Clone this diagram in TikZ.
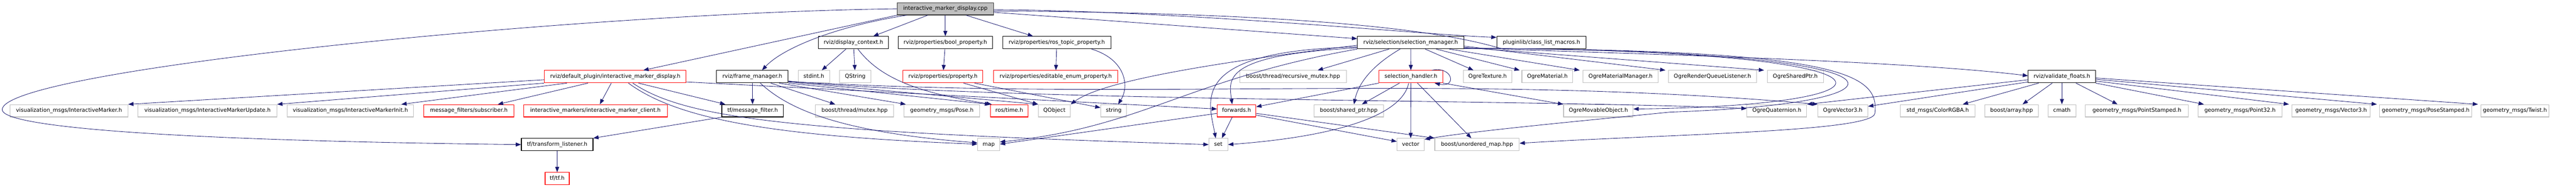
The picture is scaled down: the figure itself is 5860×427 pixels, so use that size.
\documentclass[tikz,border=0pt]{standalone}
\usepackage{fontspec}
\setmainfont{DejaVu Sans}
\usepackage{tikz}
\usetikzlibrary{arrows.meta}
\definecolor{edgeblue}{RGB}{25,25,112}
\definecolor{extgray}{RGB}{191,191,191}

\begin{document}
\begin{tikzpicture}[
        x=1pt, y=-1pt,
        every node/.style = {
        draw, rectangle, minimum height=28pt, inner xsep=3pt, inner ysep=0pt,
        text height=9pt, text depth=3pt,
        font=\fontsize{12.4}{15}\selectfont, line width=1.3pt
        },
        rootfile/.style={fill=extgray, draw=black!80},
        doc/.style={draw=black},
        ext/.style={draw=extgray},
        trunc/.style={draw=red},
        inc/.style={draw=edgeblue, line width=1pt, -{Triangle[length=12pt,width=9pt]}}
        ]
        \useasboundingbox (0,0) rectangle (5860,427);

        % row 0
        \node[rootfile, minimum width=219pt] (cpp) at (2150.5,20) {interactive\_marker\_display.cpp};

        % row 1
        \node[doc, minimum width=159pt] (dctx) at (1941.5,97) {rviz/display\_context.h};
        \node[doc, minimum width=215pt] (boolp) at (2150.5,97) {rviz/properties/bool\_property.h};
        \node[doc, minimum width=246pt] (rostp) at (2404,97) {rviz/properties/ros\_topic\_property.h};
        \node[doc, minimum width=242pt] (selm) at (3209,97) {rviz/selection/selection\_manager.h};
        \node[doc, minimum width=203pt] (plug) at (3506.5,97) {pluginlib/class\_list\_macros.h};

        % row 2
        \node[trunc, minimum width=323pt] (imd) at (1399.5,174.5) {rviz/default\_plugin/interactive\_marker\_display.h};
        \node[doc, minimum width=163pt] (fm) at (1711.5,174.5) {rviz/frame\_manager.h};
        \node[ext, minimum width=71pt] (stdint) at (1851.5,174.5) {stdint.h};
        \node[ext, minimum width=71pt] (qstr) at (1945.5,174.5) {QString};
        \node[trunc, minimum width=182pt] (prop) at (2145,174.5) {rviz/properties/property.h};
        \node[trunc, minimum width=283pt] (eenum) at (2401.5,174.5) {rviz/properties/editable\_enum\_property.h};
        \node[ext, minimum width=243pt] (rmtx) at (2941.5,174.5) {boost/thread/recursive\_mutex.hpp};
        \node[trunc, minimum width=145pt] (selh) at (3209.5,174.5) {selection\_handler.h};
        \node[ext, minimum width=110pt] (otex) at (3384,174.5) {OgreTexture.h};
        \node[ext, minimum width=116pt] (omat) at (3520,174.5) {OgreMaterial.h};
        \node[ext, minimum width=171pt] (omm) at (3686.5,174.5) {OgreMaterialManager.h};
        \node[ext, minimum width=201pt] (orql) at (3895.5,174.5) {OgreRenderQueueListener.h};
        \node[ext, minimum width=128pt] (osp) at (4084,174.5) {OgreSharedPtr.h};
        \node[doc, minimum width=153pt] (vf) at (4690.5,174.5) {rviz/validate\_floats.h};

        % row 3
        \node[ext, minimum width=268pt] (vim) at (157,252) {visualization\_msgs/InteractiveMarker.h};
        \node[ext, minimum width=316pt] (vimu) at (472,252) {visualization\_msgs/InteractiveMarkerUpdate.h};
        \node[ext, minimum width=288pt] (vimi) at (797,252) {visualization\_msgs/InteractiveMarkerInit.h};
        \node[trunc, minimum width=205pt] (mfs) at (1066.5,252) {message\_filters/subscriber.h};
        \node[trunc, minimum width=327pt] (imc) at (1354.5,252) {interactive\_markers/interactive\_marker\_client.h};
        \node[doc, minimum width=140pt] (tfmf) at (1712,252) {tf/message\_filter.h};
        \node[ext, minimum width=178pt] (mtx) at (1944,252) {boost/thread/mutex.hpp};
        \node[ext, minimum width=173pt] (pose) at (2142.5,252) {geometry\_msgs/Pose.h};
        \node[trunc, minimum width=86pt] (rtime) at (2296,252) {ros/time.h};
        \node[ext, minimum width=73pt] (qobj) at (2398.5,252) {QObject};
        \node[ext, minimum width=59pt] (str) at (2533.5,252) {string};
        \node[trunc, minimum width=88pt] (fwd) at (2813,252) {forwards.h};
        \node[ext, minimum width=158pt] (sptr) at (3068,252) {boost/shared\_ptr.hpp};
        \node[ext, minimum width=158pt] (omo) at (3636,252) {OgreMovableObject.h};
        \node[ext, minimum width=136pt] (oq) at (4042,252) {OgreQuaternion.h};
        \node[ext, minimum width=114pt] (ov3) at (4192,252) {OgreVector3.h};
        \node[ext, minimum width=170pt] (rgba) at (4408,252) {std\_msgs/ColorRGBA.h};
        \node[ext, minimum width=122pt] (barr) at (4576,252) {boost/array.hpp};
        \node[ext, minimum width=63pt] (cmath) at (4690.5,252) {cmath};
        \node[ext, minimum width=234pt] (pst) at (4861,252) {geometry\_msgs/PointStamped.h};
        \node[ext, minimum width=191pt] (p32) at (5095.5,252) {geometry\_msgs/Point32.h};
        \node[ext, minimum width=178pt] (v3) at (5303,252) {geometry\_msgs/Vector3.h};
        \node[ext, minimum width=210pt] (posst) at (5518,252) {geometry\_msgs/PoseStamped.h};
        \node[ext, minimum width=154pt] (twist) at (5721,252) {geometry\_msgs/Twist.h};

        % row 4
        \node[doc, minimum width=163pt] (tfl) at (1267.5,329) {tf/transform\_listener.h};
        \node[ext, minimum width=50pt] (map) at (2249,329) {map};
        \node[ext, minimum width=43pt] (set) at (2771.5,329) {set};
        \node[ext, minimum width=62pt] (vec) at (3209,329) {vector};
        \node[ext, minimum width=192pt] (umap) at (3360,329) {boost/unordered\_map.hpp};

        % row 5
        \node[trunc, minimum width=55pt] (tftf) at (1267.5,406.5) {tf/tf.h};

        % includes of the .cpp
        \draw[inc] (cpp.west) .. controls (1300,30) and (0,160) .. (5,250)
            .. controls (8,290) and (400,320) .. (tfl.west);
        \draw[inc] (cpp.south west) -- ([xshift=64]imd.north);
        \draw[inc] ([xshift=-88]cpp.south) .. controls (1900,60) and (1780,110) .. ([xshift=22]fm.north);
        \draw[inc] ([xshift=-40]cpp.south) -- ([xshift=45]dctx.north);
        \draw[inc] (cpp) -- (boolp);
        \draw[inc] ([xshift=47]cpp.south) -- ([xshift=-54]rostp.north);
        \draw[inc] ([yshift=-8]cpp.east) -- ([yshift=9]selm.west);
        \draw[inc] ([yshift=-2]cpp.east) .. controls (2700,25) and (3250,80) .. ([yshift=12]plug.west);
        \draw[inc] ([yshift=-5]cpp.east) .. controls (3100,30) and (3330,85) .. (3420,112)
            .. controls (3800,125) and (4350,140) .. ([yshift=2]vf.west);

        % selection manager
        \draw[inc] ([xshift=-49]selm.south) -- ([xshift=56]rmtx.north);
        \draw[inc] ([xshift=-24]selm.south) .. controls (3120,150) and (3090,190) .. ([xshift=12]sptr.north);
        \draw[inc] (selm) -- (selh);
        \draw[inc] ([xshift=33]selm.south) -- ([xshift=-32]otex.north);
        \draw[inc] ([xshift=58]selm.south) -- ([xshift=-63]omat.north);
        \draw[inc] ([xshift=88]selm.south) -- ([xshift=-93]omm.north);
        \draw[inc] ([yshift=-8]selm.east) -- ([xshift=-107]orql.north);
        \draw[inc] ([yshift=-11]selm.east) -- ([xshift=-71]osp.north);
        \draw[inc] ([yshift=-6]selm.west) .. controls (2700,150) and (2500,190) .. (qobj.north east);
        \draw[inc] ([yshift=-10]selm.west) .. controls (2700,115) and (2750,230) .. ([xshift=-6]set.north);
        \draw[inc] ([yshift=-12]selm.west) .. controls (2780,125) and (2795,180) .. ([xshift=-10]fwd.north);
        \draw[inc] (selm.south west) .. controls (2700,180) and (2600,290) .. ([yshift=6]map.east);
        \draw[inc] ([yshift=-13]selm.east) .. controls (4380,112) and (4380,240) .. ([yshift=4]omo.east);
        \draw[inc] ([yshift=-13]selm.east) .. controls (4400,112) and (4400,235) .. (3800,255)
            .. controls (3600,275) and (3350,298) .. ([yshift=12]vec.east);
        \draw[inc] ([yshift=-13]selm.east) .. controls (4200,112) and (4275,170) .. (4265,258)
            .. controls (4260,300) and (3800,305) .. ([yshift=3]umap.east);

        % selection handler
        \draw[inc] ([xshift=-26]selh.south) -- ([xshift=30]sptr.north);
        \draw[inc] (selh) -- (vec);
        \draw[inc] ([xshift=15]selh.south) -- ([xshift=-13]umap.north);
        \draw[inc] ([xshift=-5]selh.south) .. controls (3190,260) and (3050,310) .. (set.east);
        \draw[inc] (selh.south west) -- ([yshift=9]fwd.east);
        \draw[inc] (selh.south east) -- ([xshift=-80]omo.north);
        \draw[inc] ([xshift=48]selh.north) .. controls (3305,150) and (3315,200) .. ([xshift=54]selh.south);

        % forwards
        \draw[inc] ([xshift=-10]fwd.south) -- ([xshift=8]set.north);
        \draw[inc] ([yshift=-6]fwd.west) -- ([yshift=1]map.east);
        \draw[inc] ([yshift=-10]fwd.east) -- ([yshift=7]vec.west);
        \draw[inc] ([yshift=-6]fwd.east) -- (umap.north west);

        % frame manager
        \draw[inc] (fm) -- (tfmf);
        \draw[inc] ([xshift=42]fm.south) -- ([xshift=-44]mtx.north);
        \draw[inc] ([xshift=18]fm.south) .. controls (1790,245) and (1900,300) .. ([yshift=4]map.west);
        \draw[inc] ([xshift=61]fm.south) -- ([xshift=-82]pose.north);
        \draw[inc] (fm.south east) -- (rtime.north west);
        \draw[inc] ([yshift=-12]fm.east) -- (qobj.north west);
        \draw[inc] ([yshift=-11]fm.east) .. controls (2600,232) and (3300,165) .. ([xshift=-57]ov3.north);
        \draw[inc] ([yshift=-10]fm.east) .. controls (2300,232) and (3500,226) .. ([yshift=5]oq.west);

        % default plugin header
        \draw[inc] ([yshift=-7]imd.west) -- (vim.north east);
        \draw[inc] (imd.south west) -- (vimu.north east);
        \draw[inc] ([xshift=-110]imd.south) -- ([xshift=116]vimi.north);
        \draw[inc] ([xshift=-62]imd.south) -- ([xshift=66]mfs.north);
        \draw[inc] ([xshift=-9]imd.south) -- ([xshift=10]imc.north);
        \draw[inc] ([xshift=53]imd.south) -- ([xshift=-62]tfmf.north);
        \draw[inc] ([xshift=30]imd.south) .. controls (1540,270) and (1750,310) .. ([yshift=1]map.west);
        \draw[inc] ([xshift=40]imd.south) .. controls (1560,270) and (1800,300) .. (set.west);
        \draw[inc] ([yshift=-12]imd.east) -- ([yshift=4]fwd.west);

        \draw[inc] (tfmf.south west) -- (tfl.north east);
        \draw[inc] (tfl) -- (tftf);

        % display context and properties
        \draw[inc] ([xshift=-17]dctx.south) -- ([xshift=18]stdint.north);
        \draw[inc] (dctx) -- (qstr);
        \draw[inc] ([xshift=10]dctx.south) .. controls (2000,175) and (2080,210) .. ([xshift=-40]rtime.north);
        \draw[inc] (boolp) -- (prop);
        \draw[inc] ([xshift=47]prop.south) -- (qobj.north west);
        \draw[inc] ([xshift=72]prop.south) -- ([yshift=7]str.west);
        \draw[inc] (rostp) -- (eenum);
        \draw[inc] ([xshift=79]rostp.south) .. controls (2560,135) and (2570,195) .. ([xshift=10]str.north);

        % validate floats
        \draw[inc] ([xshift=-53]vf.south) -- ([xshift=57]rgba.north);
        \draw[inc] ([xshift=-22]vf.south) -- ([xshift=25]barr.north);
        \draw[inc] (vf) -- (cmath);
        \draw[inc] ([xshift=32]vf.south) -- ([xshift=-44]pst.north);
        \draw[inc] (vf.south east) -- ([xshift=-82]p32.north);
        \draw[inc] ([yshift=-10]vf.east) -- ([xshift=-96]v3.north);
        \draw[inc] ([yshift=-6]vf.east) -- ([xshift=-111]posst.north);
        \draw[inc] ([yshift=-3]vf.east) -- ([xshift=-84]twist.north);
        \draw[inc] ([yshift=-7]vf.west) -- (oq.north east);
        \draw[inc] ([yshift=-12]vf.west) -- ([yshift=10]ov3.east);
    \end{tikzpicture}
\end{document}
